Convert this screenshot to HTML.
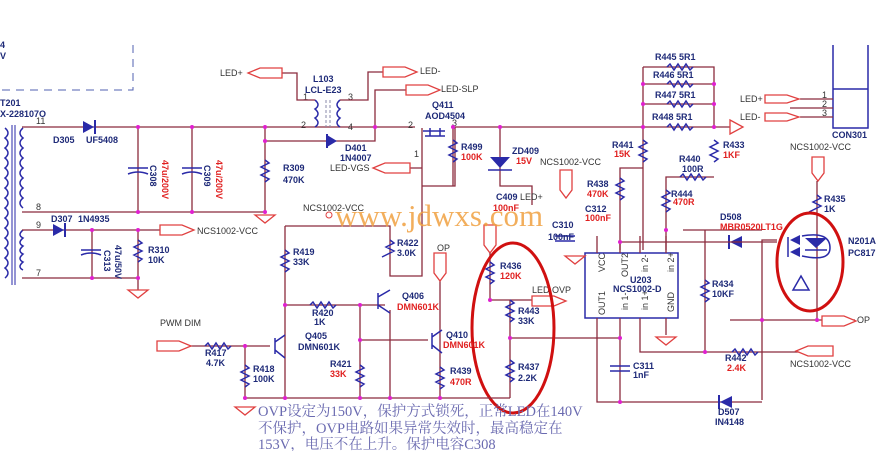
<!DOCTYPE html>
<html><head><meta charset="utf-8"><style>
html,body{margin:0;padding:0;background:#fff;}
svg{display:block;font-family:"Liberation Sans",Arial,sans-serif;}
.w{stroke:#8b2b3d;stroke-width:1.3;fill:none}
.r{stroke:#2a2aa8;stroke-width:1.5;fill:none}
.c{stroke:#e04040;stroke-width:1.3;fill:#fff}
.t{font-size:9px;fill:#1e2a78;font-weight:bold}
.v{font-size:9px;fill:#e02020;font-weight:bold}
.g{font-size:9px;fill:#333;}
.d{fill:#e020d0}
</style></head><body>
<svg width="889" height="451" viewBox="0 0 889 451">
<path d="M133,45 V90 H0" stroke="#5060b0" stroke-dasharray="8,6" fill="none"/>
<text x="0" y="48" class="t">4</text><text x="0" y="59" class="t">V</text>
<text x="0" y="106" class="t">T201</text><text x="0" y="117" class="t">X-228107O</text>
<path class="r" d="M5,128 q6,5 0,10 q6,5 0,10 q6,5 0,10 q6,5 0,10 q6,5 0,10 q6,5 0,10 q6,5 0,10 q6,5 0,10 q6,5 0,10 q6,5 0,10 q6,5 0,10 q6,5 0,10 q6,5 0,10 q6,5 0,10 q6,5 0,10"/>
<line x1="12" y1="125" x2="12" y2="285" stroke="#2a2aa8"/><line x1="15" y1="125" x2="15" y2="285" stroke="#2a2aa8"/>
<path class="r" d="M23,128 q-6,5 0,10 q-6,5 0,10 q-6,5 0,10 q-6,5 0,10 q-6,5 0,10 q-6,5 0,10 q-6,5 0,10 q-6,5 0,10"/>
<path class="r" d="M23,230 q-6,5 0,8 q-6,5 0,8 q-6,5 0,8 q-6,5 0,8 q-6,5 0,8"/>
<path class="w" d="M22,127 H415 M22,212 H265 M265,127 V212 M138,127 V212 M192,127 V212 M265,141 H375 V90 H406 M340,127 H375"/>
<text x="36" y="124" class="g">11</text><text x="36" y="210" class="g">8</text>
<polygon points="83,121 83,133 94,127" fill="#2a2aa8"/><line x1="95" y1="120" x2="95" y2="134" stroke="#2a2aa8" stroke-width="2"/>
<text x="53" y="143" class="t">D305</text><text x="86" y="143" class="t">UF5408</text>
<path class="r" d="M128,168 h20 M128,174 q10,-4 20,0 M182,168 h20 M182,174 q10,-4 20,0"/>
<text x="150" y="165" class="t" transform="rotate(90 150,165)">C308</text><text x="162" y="160" class="v" transform="rotate(90 162,160)">47u/200V</text>
<text x="204" y="165" class="t" transform="rotate(90 204,165)">C309</text><text x="216" y="160" class="v" transform="rotate(90 216,160)">47u/200V</text>
<path class="r" d="M265,160 l4,3 -8,4 8,4 -8,4 8,4 -4,3"/>
<text x="283" y="171" class="t">R309</text><text x="283" y="183" class="t">470K</text>
<path class="c" d="M255,215 h20 l-10,8 z"/>
<polygon points="327,135 327,147 337,141" fill="#2a2aa8"/><line x1="327" y1="134" x2="327" y2="148" stroke="#2a2aa8" stroke-width="2"/>
<text x="345" y="151" class="t">D401</text><text x="340" y="161" class="t">1N4007</text>
<path class="r" d="M315,100 q6,5 0,9 q6,5 0,9 q6,5 0,9 M340,100 q-6,5 0,9 q-6,5 0,9 q-6,5 0,9"/>
<line x1="326" y1="100" x2="326" y2="127" stroke="#88a" stroke-dasharray="3,2"/><line x1="330" y1="100" x2="330" y2="127" stroke="#88a" stroke-dasharray="3,2"/>
<text x="313" y="82" class="t">L103</text><text x="305" y="93" class="t">LCL-E23</text>
<text x="303" y="100" class="g">1</text><text x="348" y="100" class="g">3</text><text x="301" y="128" class="g">2</text><text x="348" y="130" class="g">4</text>
<path class="w" d="M282,73 H297 V100 H315 M340,100 H368 V72 H383"/>
<path class="c" d="M282,68 h-22 l-12,5 12,5 h22 z"/><text x="220" y="76" class="g">LED+</text>
<path class="c" d="M383,67 h22 l12,5 -12,5 h-22 z"/><text x="420" y="74" class="g">LED-</text>
<path class="c" d="M406,85 h22 l12,5 -12,5 h-22 z"/><text x="441" y="92" class="g">LED-SLP</text>
<text x="432" y="108" class="t">Q411</text><text x="425" y="119" class="t">AOD4504</text>
<path class="w" d="M455,127 H735 M422,128 V186 H455 V127 M422,168 H410 M422,186 V240 M453,127 V186 M500,127 V186 H532 V205"/>
<path stroke="#2a2aa8" stroke-width="1.5" fill="none" d="M423,131 h22 M425,136 h20 M430,128 v8 M440,128 v8"/>
<text x="408" y="128" class="g">2</text><text x="452" y="126" class="g">3</text><text x="414" y="157" class="g">1</text>
<path class="c" d="M410,163 h-25 l-12,5 12,5 h25 z"/><text x="330" y="171" class="g">LED-VGS</text>
<path class="r" d="M453,140 l4,3 -8,4 8,4 -8,4 8,4 -4,3"/>
<text x="461" y="150" class="t">R499</text><text x="461" y="160" class="v">100K</text>
<polygon points="490,157 510,157 500,168" fill="#2a2aa8"/><path class="r" d="M488,170 h24"/>
<text x="512" y="154" class="t">ZD409</text><text x="516" y="164" class="v">15V</text>
<text x="540" y="165" class="g">NCS1002-VCC</text>
<path class="c" d="M560,170 h12 v20 l-6,8 -6,-8 z"/>
<text x="496" y="200" class="t">C409</text><text x="493" y="211" class="v">100nF</text>
<text x="520" y="200" class="g" fill="#444">LED+</text>
<path class="w" d="M643,67 H714 V127 M643,67 V200 M643,84 H714 M643,104 H714 M714,177 H666 V240"/>
<path class="r" d="M667,67 l3,-3 4,6 4,-6 4,6 4,-6 4,6 3,-3 M667,84 l3,-3 4,6 4,-6 4,6 4,-6 4,6 3,-3 M667,104 l3,-3 4,6 4,-6 4,6 4,-6 4,6 3,-3 M667,127 l3,-3 4,6 4,-6 4,6 4,-6 4,6 3,-3"/>
<text x="655" y="60" class="t">R445 5R1</text><text x="653" y="78" class="t">R446 5R1</text><text x="655" y="98" class="t">R447 5R1</text><text x="652" y="120" class="t">R448 5R1</text>
<path class="c" d="M730,120 l13,7 -13,7 z"/>
<path class="r" d="M643,140 l4,3 -8,4 8,4 -8,4 8,4 -4,3 M714,140 l4,3 -8,4 8,4 -8,4 8,4 -4,3 M666,190 l4,3 -8,4 8,4 -8,4 8,4 -4,3 M680,177 l3,-3 4,6 4,-6 4,6 4,-6 4,6 3,-3"/>
<text x="612" y="148" class="t">R441</text><text x="614" y="157" class="v">15K</text>
<text x="723" y="148" class="t">R433</text><text x="723" y="158" class="v">1KF</text>
<text x="679" y="162" class="t">R440</text><text x="682" y="172" class="t">100R</text>
<text x="671" y="197" class="t">R444</text><text x="673" y="205" class="v">470R</text>
<path class="w" d="M643,168 H620 V250 M643,200 V250 M666,240 V250 M620,210 V250"/>
<path class="r" d="M620,178 l4,3 -8,4 8,4 -8,4 8,4 -4,3"/>
<text x="587" y="187" class="t">R438</text><text x="587" y="197" class="v">470K</text>
<text x="585" y="212" class="t">C312</text><text x="585" y="221" class="v">100nF</text>
<path stroke="#2a2aa8" stroke-width="1.5" fill="none" d="M833,45 V89 M868,45 V89 M833,89 h35 v39 h-35 z"/>
<path class="w" d="M800,99 H833 M790,108 H833 M800,117 H833"/>
<text x="822" y="98" class="g">1</text><text x="822" y="107" class="g">2</text><text x="822" y="116" class="g">3</text>
<text x="832" y="138" class="t">CON301</text>
<path class="c" d="M765,95 h22 l12,4 -12,4 h-22 z"/><text x="740" y="102" class="g">LED+</text>
<path class="c" d="M765,113 h22 l12,4 -12,4 h-22 z"/><text x="740" y="120" class="g">LED-</text>
<text x="790" y="150" class="g">NCS1002-VCC</text>
<path class="c" d="M812,157 h12 v16 l-6,8 -6,-8 z"/>
<path class="w" d="M817,181 V320 H855 M777,240 H762 V400 M683,230 H762 M730,320 H817"/>
<path class="r" d="M817,195 l4,3 -8,4 8,4 -8,4 -4,2"/>
<text x="824" y="202" class="t">R435</text><text x="824" y="212" class="t">1K</text>
<ellipse cx="810" cy="262" rx="33" ry="49" fill="none" stroke="#d01010" stroke-width="3"/>
<path fill="#2a2aa8" d="M790,240 l10,-5 v10 z M790,252 l10,-5 v10 z M805,238 h22 l-11,10 z"/>
<path fill="none" stroke="#2a2aa8" stroke-width="1.5" d="M788,237 v20 M805,250 h22 M802,236 q28,-5 28,12 q0,14 -28,8 M793,290 l8,-14 8,14 z"/>
<text x="848" y="244" class="t">N201A</text><text x="848" y="256" class="t">PC817</text>
<path class="c" d="M822,316 h22 l12,5 -12,5 h-22 z"/><text x="857" y="323" class="g">OP</text>
<text x="720" y="220" class="t">D508</text><text x="720" y="230" class="v">MBR0520LT1G</text>
<polygon points="742,236 742,248 730,242" fill="#2a2aa8"/><line x1="729" y1="235" x2="729" y2="249" stroke="#2a2aa8" stroke-width="2"/>
<path class="w" d="M620,242 H777"/>
<rect x="585" y="253" width="93" height="65" fill="none" stroke="#2a2aa8" stroke-width="1.5"/>
<path class="w" d="M597,253 V236 M620,253 V242 M640,253 V236 M666,253 V236 M597,318 V402 H762 M620,318 V402 M640,318 V352 H800 M666,318 V335 M705,230 V352"/>
<text x="605" y="272" class="g" transform="rotate(-90 605,272)">VCC</text><text x="628" y="277" class="g" transform="rotate(-90 628,277)">OUT2</text>
<text x="648" y="272" class="g" transform="rotate(-90 648,272)">in 2-</text><text x="674" y="272" class="g" transform="rotate(-90 674,272)">in 2+</text>
<text x="605" y="315" class="g" transform="rotate(-90 605,315)">OUT1</text><text x="628" y="310" class="g" transform="rotate(-90 628,310)">in 1-</text>
<text x="648" y="310" class="g" transform="rotate(-90 648,310)">in 1+</text><text x="674" y="312" class="g" transform="rotate(-90 674,312)">GND</text>
<text x="630" y="283" class="t">U203</text><text x="613" y="292" class="t">NCS1002-D</text>
<path class="c" d="M656,337 h20 l-10,8 z M565,256 h20 l-10,8 z"/>
<path class="r" d="M555,236 h20 M555,241 h20 M610,366 h20 M610,371 h20 M705,280 l4,3 -8,4 8,4 -8,4 8,4 -4,3 M732,352 l3,-3 4,6 4,-6 4,6 4,-6 4,6 3,-3"/>
<text x="552" y="228" class="t">C310</text><text x="548" y="240" class="t">100nF</text>
<text x="633" y="369" class="t">C311</text><text x="633" y="378" class="t">1nF</text>
<text x="712" y="287" class="t">R434</text><text x="712" y="297" class="t">10KF</text>
<text x="725" y="361" class="t">R442</text><text x="727" y="371" class="v">2.4K</text>
<path class="c" d="M833,346 h-25 l-12,5 12,5 h25 z"/><text x="790" y="367" class="g">NCS1002-VCC</text>
<polygon points="732,396 732,408 720,402" fill="#2a2aa8"/><line x1="719" y1="395" x2="719" y2="409" stroke="#2a2aa8" stroke-width="2"/>
<text x="718" y="415" class="t">D507</text><text x="715" y="425" class="t">IN4148</text>
<path class="c" d="M484,225 h12 v20 l-6,8 -6,-8 z"/>
<path class="w" d="M490,253 V300 H532 M510,300 V398 M510,338 H620"/>
<path class="r" d="M490,262 l4,3 -8,4 8,4 -8,4 8,4 -4,3 M510,300 l4,3 -8,4 8,4 -8,4 8,4 -4,3 M510,360 l4,3 -8,4 8,4 -8,4 8,4 -4,3"/>
<text x="500" y="269" class="t">R436</text><text x="500" y="279" class="v">120K</text>
<text x="532" y="293" class="g">LED OVP</text><path class="c" d="M532,296 h22 l12,5 -12,5 h-22 z"/>
<text x="518" y="314" class="t">R443</text><text x="518" y="324" class="t" fill="#9040d0">33K</text>
<text x="518" y="370" class="t">R437</text><text x="518" y="381" class="t">2.2K</text>
<ellipse cx="513" cy="328" rx="41" ry="85" fill="none" stroke="#d01010" stroke-width="3"/>
<path class="w" d="M22,230 H160 M22,278 H138 M92,230 V278 M138,230 V290"/>
<text x="36" y="228" class="g">9</text><text x="36" y="276" class="g">7</text>
<polygon points="53,224 53,236 64,230" fill="#2a2aa8"/><line x1="65" y1="223" x2="65" y2="237" stroke="#2a2aa8" stroke-width="2"/>
<text x="51" y="222" class="t">D307</text><text x="78" y="222" class="t">1N4935</text>
<path class="r" d="M81,250 h20 M81,255 q10,-4 20,0 M138,240 l4,3 -8,4 8,4 -8,4 8,4 -4,3"/>
<text x="104" y="250" class="t" transform="rotate(90 104,250)">C313</text><text x="115" y="245" class="t" transform="rotate(90 115,245)">47u/50V</text>
<text x="148" y="253" class="t">R310</text><text x="148" y="263" class="t">10K</text>
<path class="c" d="M160,225 h22 l12,5 -12,5 h-22 z"/><text x="197" y="234" class="g">NCS1002-VCC</text>
<path class="c" d="M128,290 h20 l-10,8 z M235,407 h20 l-10,8 z"/>
<text x="303" y="211" class="g">NCS1002-VCC</text>
<circle cx="329" cy="215" r="3" fill="none" stroke="#e04040"/>
<path class="w" d="M285,226 H390 V276 H422 V240 M285,226 V398 M285,305 H385 M360,305 V398 M360,340 H428 M390,310 V398 M245,344 V398 M190,346 H270 M440,280 V398 M245,398 H510"/>
<path class="r" d="M285,250 l4,3 -8,4 8,4 -8,4 8,4 -4,3 M390,240 l4,3 -8,4 8,4 -8,4 -4,2 M245,365 l4,3 -8,4 8,4 -8,4 8,4 -4,3 M360,365 l4,3 -8,4 8,4 -8,4 8,4 -4,3 M440,367 l4,3 -8,4 8,4 -8,4 8,4 -4,3 M310,305 l3,-3 4,6 4,-6 4,6 4,-6 4,6 3,-3 M205,346 l3,-3 4,6 4,-6 4,6 4,-6 4,6 3,-3"/>
<path stroke="#2a2aa8" stroke-width="1.5" fill="none" d="M378,293 v16 M378,297 l12,-7 M378,305 l12,8 M275,338 v16 M275,342 l10,-7 M275,350 l10,8 M432,333 v16 M432,337 l10,-7 M432,345 l10,8"/>
<text x="293" y="255" class="t">R419</text><text x="293" y="265" class="t">33K</text>
<text x="397" y="246" class="t">R422</text><text x="397" y="256" class="t">3.0K</text>
<text x="402" y="299" class="t">Q406</text><text x="397" y="310" class="v">DMN601K</text>
<text x="312" y="316" class="t">R420</text><text x="314" y="325" class="t">1K</text>
<text x="305" y="339" class="t">Q405</text><text x="298" y="350" class="t">DMN601K</text>
<text x="330" y="367" class="t">R421</text><text x="330" y="377" class="v">33K</text>
<text x="446" y="338" class="t">Q410</text><text x="443" y="348" class="v">DMN601K</text>
<text x="450" y="374" class="t">R439</text><text x="450" y="385" class="v">470R</text>
<text x="160" y="326" class="g">PWM DIM</text>
<path class="c" d="M157,341 h22 l12,5 -12,5 h-22 z"/>
<text x="205" y="356" class="t">R417</text><text x="206" y="366" class="t">4.7K</text>
<text x="253" y="372" class="t">R418</text><text x="253" y="382" class="t">100K</text>
<text x="437" y="251" class="g">OP</text><path class="c" d="M434,253 h12 v20 l-6,8 -6,-8 z"/>
<g class="d"><circle cx="138" cy="127" r="2"/><circle cx="192" cy="127" r="2"/><circle cx="265" cy="127" r="2"/><circle cx="265" cy="141" r="2"/><circle cx="375" cy="127" r="2"/><circle cx="138" cy="212" r="2"/><circle cx="192" cy="212" r="2"/><circle cx="265" cy="212" r="2"/><circle cx="453" cy="127" r="2"/><circle cx="500" cy="127" r="2"/><circle cx="643" cy="127" r="2"/><circle cx="714" cy="127" r="2"/><circle cx="643" cy="84" r="2"/><circle cx="714" cy="84" r="2"/><circle cx="643" cy="104" r="2"/><circle cx="714" cy="104" r="2"/><circle cx="92" cy="230" r="2"/><circle cx="138" cy="230" r="2"/><circle cx="92" cy="278" r="2"/><circle cx="138" cy="278" r="2"/><circle cx="285" cy="305" r="2"/><circle cx="360" cy="305" r="2"/><circle cx="360" cy="340" r="2"/><circle cx="245" cy="346" r="2"/><circle cx="245" cy="398" r="2"/><circle cx="285" cy="398" r="2"/><circle cx="360" cy="398" r="2"/><circle cx="390" cy="398" r="2"/><circle cx="440" cy="398" r="2"/><circle cx="490" cy="300" r="2"/><circle cx="510" cy="338" r="2"/><circle cx="620" cy="338" r="2"/><circle cx="620" cy="402" r="2"/><circle cx="705" cy="352" r="2"/><circle cx="762" cy="320" r="2"/><circle cx="817" cy="320" r="2"/><circle cx="666" cy="230" r="2"/><circle cx="620" cy="242" r="2"/></g>
<text x="335" y="226" font-family="'Liberation Serif',serif" font-size="31" fill="#f0a040" opacity="0.85">www.jdwxs.com</text>
<g font-family="'Liberation Serif','Noto Serif CJK SC',serif" font-size="14.5" fill="#6a6ab0">
<text x="258" y="416">OVP设定为150V，保护方式锁死，正常LED在140V</text>
<text x="258" y="433">不保护，OVP电路如果异常失效时，最高稳定在</text>
<text x="258" y="449">153V，电压不在上升。保护电容C308</text>
</g>
</svg>
</body></html>
